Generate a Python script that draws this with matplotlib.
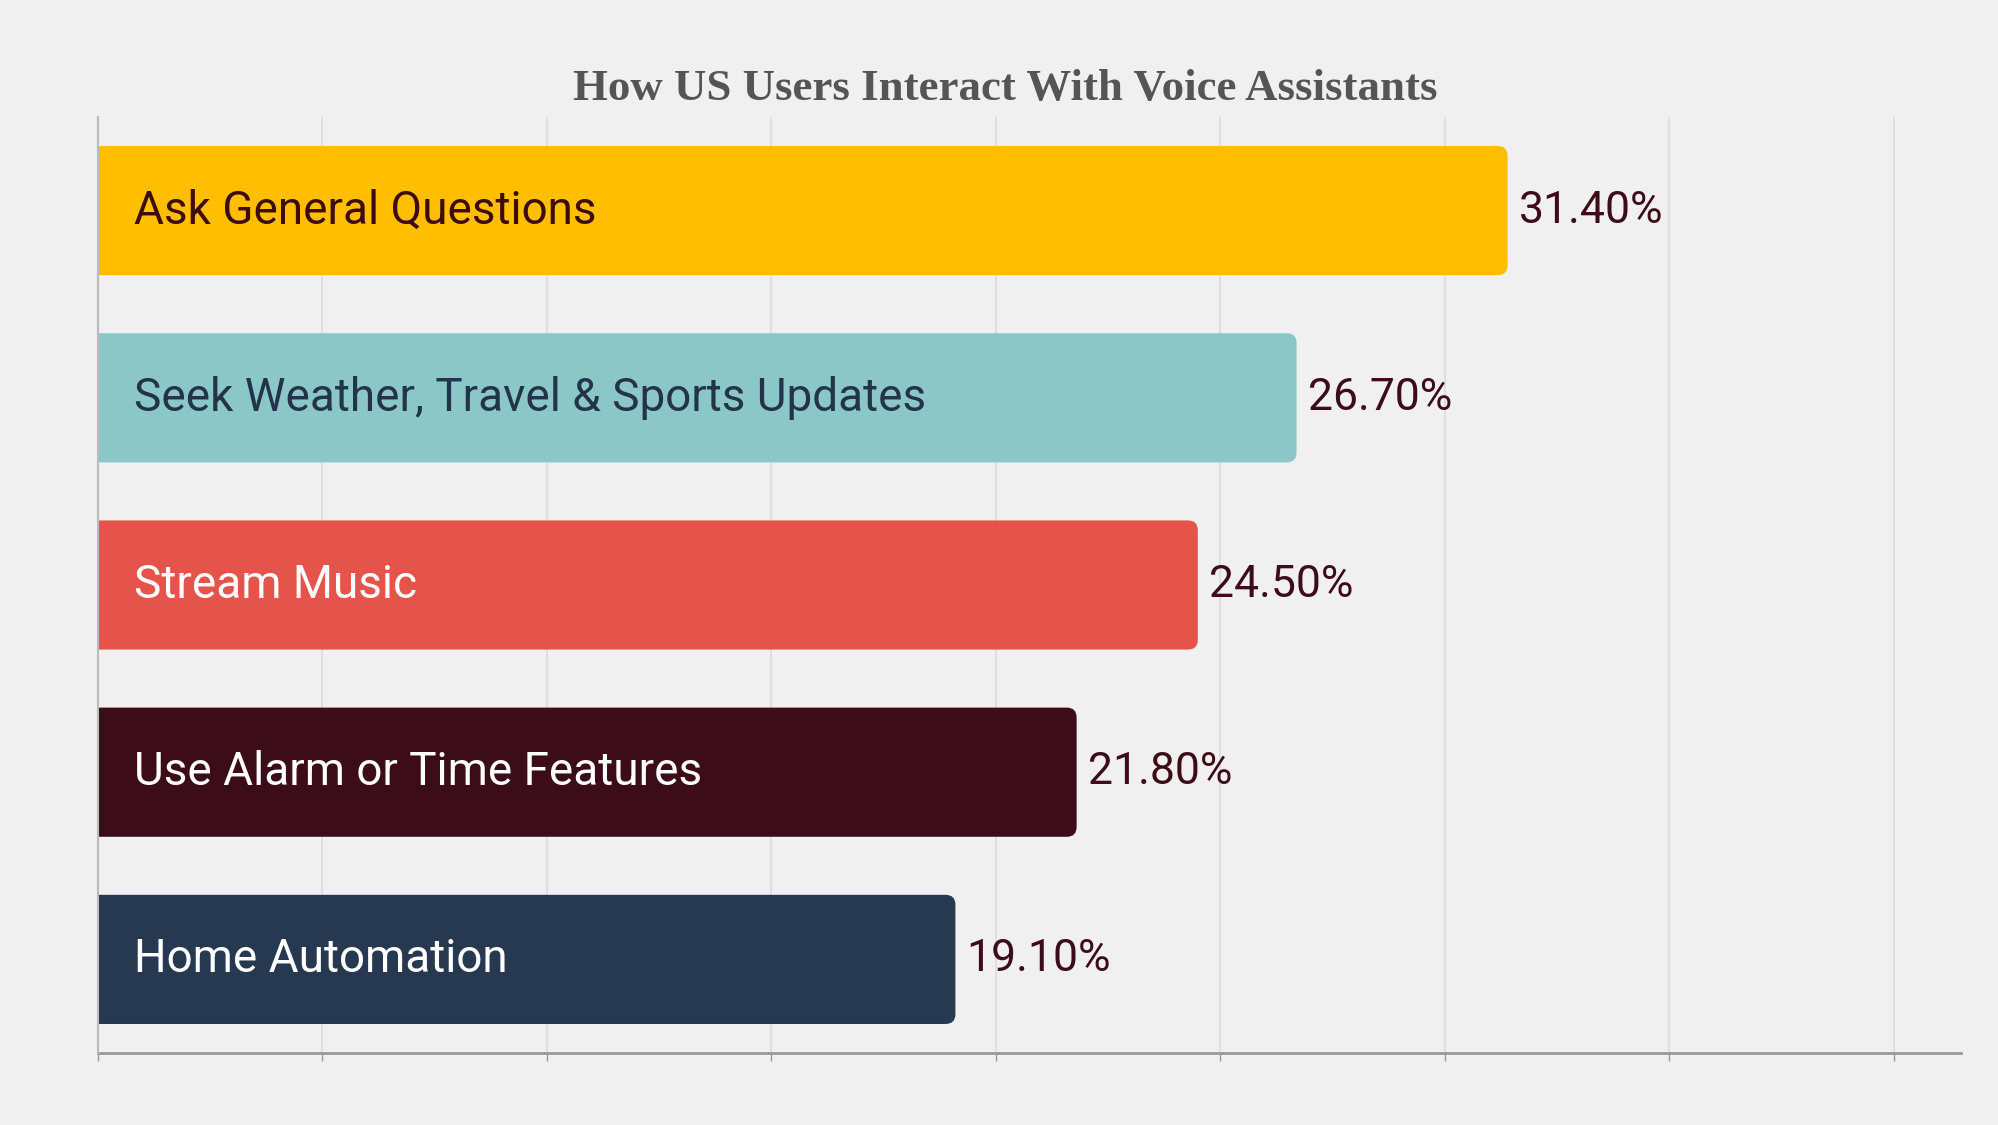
import matplotlib.pyplot as plt
from matplotlib.patches import FancyBboxPatch

categories = [
    'Ask General Questions',
    'Seek Weather, Travel & Sports Updates',
    'Stream Music',
    'Use Alarm or Time Features',
    'Home Automation',
]
values = [31.4, 26.7, 24.5, 21.8, 19.1]
bar_colors = ['#FFBE00', '#8CC7C8', '#E5544A', '#3D0C19', '#273951']
text_colors = ['#3D0C0C', '#22334A', '#FFFFFF', '#FFFFFF', '#FFFFFF']

BG = '#F0F0F0'
LABEL_FONT = 'Roboto'

fig = plt.figure(figsize=(19.99, 11.25), dpi=100, facecolor=BG)
ax = fig.add_axes([0.049, 0.064, 0.932, 0.832], facecolor=BG)

ypos = list(range(len(categories)))
height = 0.69

bars = ax.barh(ypos, values, height=height, color='none', zorder=1)

# rounded right end; the left end starts past x=0 so the axes clip squares it off
for bar, col in zip(bars, bar_colors):
    x0, y0 = bar.get_x(), bar.get_y()
    w, h = bar.get_width(), bar.get_height()
    ax.add_patch(FancyBboxPatch((x0 - 0.5, y0), w + 0.5, h,
                                boxstyle='round,pad=0,rounding_size=0.22',
                                mutation_aspect=0.24, fc=col, ec='none', zorder=2))

for y, cat, val, tc in zip(ypos, categories, values, text_colors):
    ax.text(0.8, y, cat, ha='left', va='center', color=tc,
            fontsize=33, family=LABEL_FONT, zorder=3)
    ax.annotate(f'{val:.2f}%', xy=(val, y), xytext=(8, 0),
                textcoords='offset points', ha='left', va='center',
                color='#3D0C19', fontsize=32, family=LABEL_FONT, zorder=3)

ax.set_xlim(0, 41.5)
ax.set_ylim(4.5, -0.5)
ax.set_xticks(range(0, 41, 5))
ax.set_xticklabels([])
ax.set_yticks([])
ax.grid(axis='x', color='#DCDCDC', linewidth=1.2, zorder=0)
ax.tick_params(axis='x', direction='out', length=6, width=1, color='#999999')

for side in ['top', 'right']:
    ax.spines[side].set_visible(False)
ax.spines['left'].set_color('#BBBBBB')
ax.spines['left'].set_linewidth(1.5)
ax.spines['left'].set_zorder(4)
ax.spines['bottom'].set_color('#999999')
ax.spines['bottom'].set_linewidth(2)

fig.text(0.503, 0.921, 'How US Users Interact With Voice Assistants',
         ha='center', va='center', fontsize=32.3, fontweight='bold',
         family='Liberation Serif', color='#555555')

fig.savefig('out.png', dpi=100, facecolor=BG)
